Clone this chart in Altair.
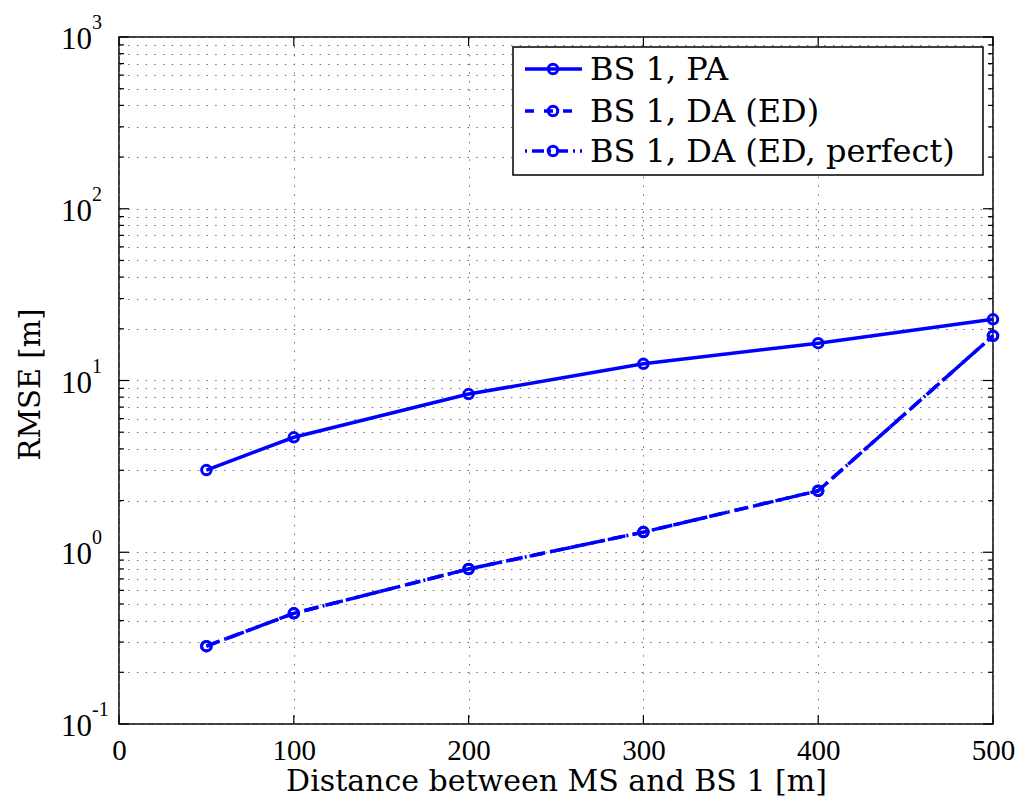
import altair as alt
import pandas as pd

# ---- data ----
distance = [50, 100, 200, 300, 400, 500]
rmse_pa = [3.01, 4.67, 8.34, 12.5, 16.5, 22.7]
rmse_da_ed = [0.284, 0.441, 0.799, 1.31, 2.28, 18.2]
rmse_da_ed_perfect = [0.284, 0.441, 0.799, 1.31, 2.28, 18.2]
series_names = ["BS 1, PA", "BS 1, DA (ED)", "BS 1, DA (ED, perfect)"]
x_ticks = [0, 100, 200, 300, 400, 500]
y_decades = [0.1, 1, 10, 100, 1000]
y_exponents = ["-1", "0", "1", "2", "3"]

W, H = 874, 687
BLUE = "#0000ff"
SERIF = "'Liberation Serif', 'Times New Roman', serif"
TEXTF = "'DejaVu Serif', serif"

y_minor = []
for d in y_decades[:-1]:
    for k in range(1, 10):
        y_minor.append(round(d * k, 6))
y_minor.append(1000)
y_major_flags = [v in y_decades for v in y_minor]

xs = alt.Scale(domain=[0, 500], nice=False, zero=False)
ys = alt.Scale(type="log", domain=[0.1, 1000], nice=False)

GRID = dict(grid=True, gridDash=[1.5, 7.2], gridColor="#6e6e6e", gridWidth=1,
            ticks=False, domain=False)
xaxis = alt.Axis(values=x_ticks, labelFont=SERIF, labelFontSize=29, labelColor="black",
                 labelPadding=12, labelFlush=False, title="Distance between MS and BS 1 [m]",
                 titleFont=TEXTF, titleFontSize=30, titleFontWeight="normal",
                 titleColor="black", titleY=66, titleBaseline="alphabetic", **GRID)
yaxis = alt.Axis(values=y_minor, labels=False, title="RMSE [m]", titleFont=TEXTF,
                 titleFontSize=29, titleFontWeight="normal", titleColor="black",
                 titleX=-89, titleY=347, titleBaseline="middle", titleAlign="center",
                 **GRID)

def X(f):
    return alt.X(f"{f}:Q", scale=xs, axis=xaxis)

def Y(f):
    return alt.Y(f"{f}:Q", scale=ys, axis=yaxis)

df_pa = pd.DataFrame({"x": distance, "y": rmse_pa})
df_ed = pd.DataFrame({"x": distance, "y": rmse_da_ed})
df_edp = pd.DataFrame({"x": distance, "y": rmse_da_ed_perfect})

PT = dict(shape="circle", filled=False, size=90, strokeWidth=3, color=BLUE, opacity=1)

def series(df, dash):
    kw = dict(color=BLUE, strokeWidth=3.5)
    if dash:
        kw["strokeDash"] = dash
    line = alt.Chart(df).mark_line(**kw).encode(x=X("x"), y=Y("y"))
    pts = alt.Chart(df).mark_point(**PT).encode(x=X("x"), y=Y("y"))
    return [line, pts]

layers = []
layers += series(df_edp, [14, 5, 2, 5])
layers += series(df_ed, [14, 7])
layers += series(df_pa, None)

# inward ticks
df_ymaj = pd.DataFrame({"v": [v for v, m in zip(y_minor, y_major_flags) if m]})
df_ymin = pd.DataFrame({"v": [v for v, m in zip(y_minor, y_major_flags) if not m]})
df_xt = pd.DataFrame({"v": x_ticks})
tk = dict(color="black", strokeWidth=1.2)
layers.append(alt.Chart(df_ymaj).mark_rule(**tk).encode(y=Y("v"), x=alt.value(0), x2=alt.value(10)))
layers.append(alt.Chart(df_ymin).mark_rule(**tk).encode(y=Y("v"), x=alt.value(0), x2=alt.value(5)))
layers.append(alt.Chart(df_ymaj).mark_rule(**tk).encode(y=Y("v"), x=alt.value(W), x2=alt.value(W - 10)))
layers.append(alt.Chart(df_ymin).mark_rule(**tk).encode(y=Y("v"), x=alt.value(W), x2=alt.value(W - 5)))
layers.append(alt.Chart(df_xt).mark_rule(**tk).encode(x=X("v"), y=alt.value(H), y2=alt.value(H - 9)))
layers.append(alt.Chart(df_xt).mark_rule(**tk).encode(x=X("v"), y=alt.value(0), y2=alt.value(9)))

# y tick labels 10^k
df_ylab = pd.DataFrame({"v": y_decades, "base": ["10"] * len(y_decades), "exp": y_exponents})
layers.append(alt.Chart(df_ylab).mark_text(font=SERIF, fontSize=31, align="right",
                                           baseline="middle", dy=3, color="black")
              .encode(y=Y("v"), x=alt.value(-27), text="base:N"))
layers.append(alt.Chart(df_ylab).mark_text(font=SERIF, fontSize=20, align="left",
                                           baseline="middle", dy=-14, color="black")
              .encode(y=Y("v"), x=alt.value(-27), text="exp:N"))

# legend box
df_one = pd.DataFrame({"a": [0]})
layers.append(alt.Chart(df_one).mark_rect(fill="white", stroke="black", strokeWidth=1.5)
              .encode(x=alt.value(394), x2=alt.value(864), y=alt.value(10), y2=alt.value(138)))
rows_y = [32, 74, 114]
dashes = [None, [9, 10], [2, 5, 12, 5]]
for name, ry, dash in zip(series_names, rows_y, dashes):
    kw = dict(color=BLUE, strokeWidth=3.5)
    if dash:
        kw["strokeDash"] = dash
    layers.append(alt.Chart(df_one).mark_rule(**kw)
                  .encode(x=alt.value(406), x2=alt.value(463), y=alt.value(ry)))
    layers.append(alt.Chart(df_one).mark_point(**PT)
                  .encode(x=alt.value(434), y=alt.value(ry)))
    layers.append(alt.Chart(pd.DataFrame({"t": [name]})).mark_text(
        font=TEXTF, fontSize=32, align="left", baseline="middle", dy=1, color="black")
        .encode(x=alt.value(471), y=alt.value(ry), text="t:N"))

chart = alt.layer(*layers).properties(
    width=W, height=H,
    autosize=alt.AutoSizeParams(type="none"),
    padding={"left": 119, "top": 37, "right": 31, "bottom": 81},
    background="white",
).configure_view(stroke="black", strokeWidth=1.5)

chart.save("out.html", embed_options={"renderer": "svg", "actions": False})
